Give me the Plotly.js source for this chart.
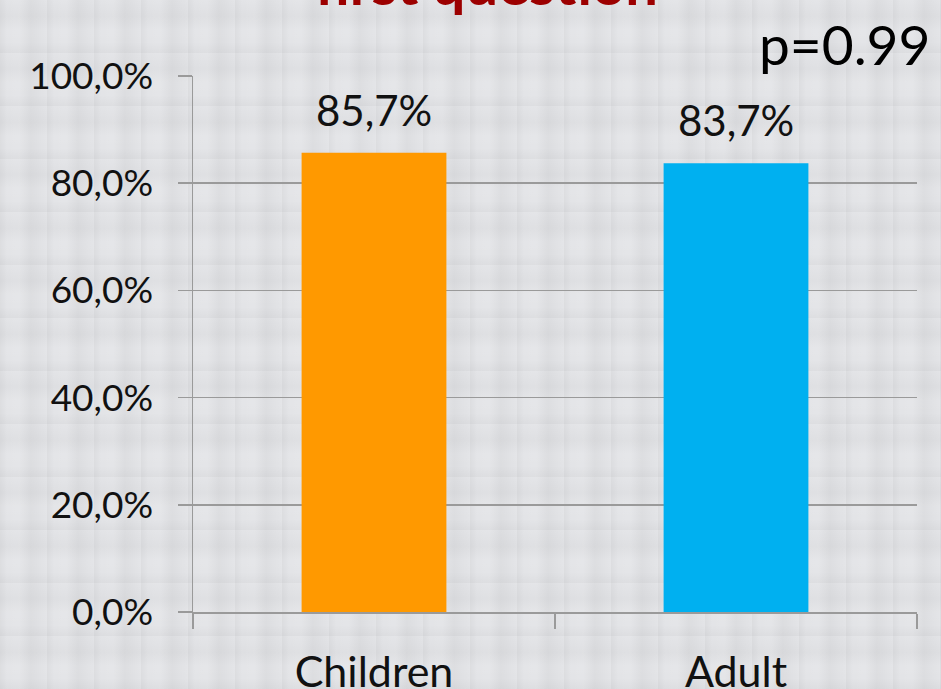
<!DOCTYPE html>
<html>
<head>
<meta charset="utf-8">
<script src="https://cdn.plot.ly/plotly-3.0.1.min.js"></script>
<style>
html,body{margin:0;padding:0;}
body{
  width:941px;height:689px;overflow:hidden;
  background-color:#e3e4e7;
  background-image:
    repeating-linear-gradient(90deg, rgba(0,0,0,0.035) 0px, rgba(0,0,0,0.0) 7px, rgba(255,255,255,0.05) 19px, rgba(0,0,0,0.03) 31px, rgba(0,0,0,0) 47px),
    repeating-linear-gradient(0deg, rgba(0,0,0,0.03) 0px, rgba(0,0,0,0) 11px, rgba(255,255,255,0.05) 23px, rgba(0,0,0,0.025) 37px, rgba(0,0,0,0) 53px);
}
#chart{width:941px;height:689px;}
</style>
</head>
<body>
<div id="chart"></div>
<script>
// Data
var categories = ["Children", "Adult"];
var values = [0.857, 0.837];
var barColors = ["#FF9900", "#00B0F0"];
var yTickValues = [0, 0.2, 0.4, 0.6, 0.8, 1.0];
var titleText = "first question";
var pValueText = "p=0.99";

function fmtPct(v) { return (v * 100).toFixed(1).replace('.', ',') + '%'; }
var labels = values.map(fmtPct);
var yTickText = yTickValues.map(fmtPct);

var FONT = "Lato, 'Open Sans', sans-serif";

var trace = {
  type: 'bar',
  x: categories,
  y: values,
  marker: { color: barColors, line: { width: 0 } },
  hoverinfo: 'none'
};

var dataLabels = categories.map(function (c, i) {
  return {
    text: labels[i],
    xref: 'x', yref: 'y',
    x: c, y: values[i],
    xanchor: 'center', yanchor: 'bottom',
    yshift: 16,
    showarrow: false,
    font: { family: FONT, size: 42, color: '#111111' }
  };
});

var layout = {
  width: 941,
  height: 689,
  margin: { l: 193, r: 24, t: 76, b: 77, pad: 0 },
  paper_bgcolor: 'rgba(0,0,0,0)',
  plot_bgcolor: 'rgba(0,0,0,0)',
  bargap: 0.6,
  showlegend: false,
  separators: ',.',
  font: { family: FONT, color: '#111111' },
  xaxis: {
    type: 'category',
    showline: true,
    linecolor: '#9a9a9a',
    linewidth: 1.5,
    ticks: 'outside',
    tickson: 'boundaries',
    ticklen: 15,
    tickwidth: 1.5,
    tickcolor: '#9a9a9a',
    tickfont: { family: FONT, size: 43, color: '#111111' },
    ticklabelstandoff: 22,
    showgrid: false,
    zeroline: false
  },
  yaxis: {
    range: [0, 1.0],
    tickvals: yTickValues,
    ticktext: yTickText,
    ticks: 'outside',
    ticklen: 14,
    tickwidth: 1.5,
    tickcolor: '#9a9a9a',
    tickfont: { family: FONT, size: 37, color: '#111111' },
    ticklabelstandoff: 17,
    showgrid: true,
    gridcolor: '#9a9a9a',
    gridwidth: 1.5,
    showline: true,
    linecolor: '#9a9a9a',
    linewidth: 1.5,
    zeroline: false,
    fixedrange: true
  },
  annotations: dataLabels.concat([
    {
      text: '<b>' + titleText + '</b>',
      xref: 'paper', yref: 'paper',
      x: 0.405, y: 1.107,
      xanchor: 'center', yanchor: 'bottom',
      showarrow: false,
      font: { family: FONT, size: 58, color: '#9C0000' }
    },
    {
      text: pValueText,
      xref: 'paper', yref: 'paper',
      x: 1.021, y: 1.06,
      xanchor: 'right', yanchor: 'middle',
      showarrow: false,
      font: { family: FONT, size: 55, color: '#000000' }
    }
  ])
};

Plotly.newPlot('chart', [trace], layout, { displayModeBar: false, staticPlot: true });
</script>
</body>
</html>
